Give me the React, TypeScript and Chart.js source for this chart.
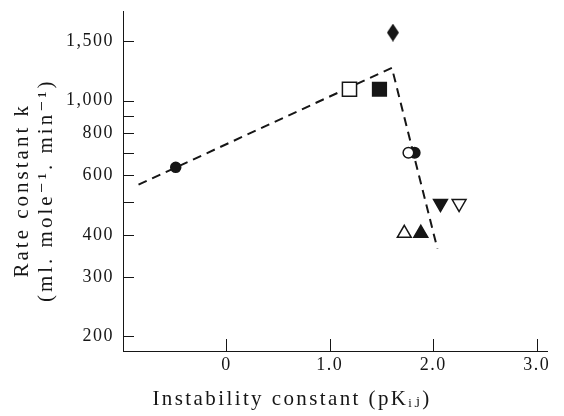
import { useEffect, useRef } from "react";
import { Chart, registerables } from "chart.js";

Chart.register(...registerables);

// ---- data ----
const filledCircleX = [-0.49];
const filledCircleY = [634];
const openSquareX = [1.19];
const openSquareY = [1080];
const filledSquareX = [1.48];
const filledSquareY = [1080];
const filledDiamondX = [1.61];
const filledDiamondY = [1590];
const openCircleX = [1.76];
const openCircleY = [700];
const halfCircleX = [1.82];
const halfCircleY = [700];
const openTriangleX = [1.72];
const openTriangleY = [404];
const filledTriangleX = [1.88];
const filledTriangleY = [404];
const filledInvTriangleX = [2.07];
const filledInvTriangleY = [495];
const openInvTriangleX = [2.25];
const openInvTriangleY = [495];
const trendX = [-0.85, 1.6, 2.04];
const trendY = [563, 1250, 364];

const yTickValues = [200, 300, 400, 500, 600, 700, 800, 900, 1000, 1500];
const yTickLabels = ["200", "300", "400", "", "600", "", "800", "", "1,000", "1,500"];
const xTickValues = [0, 1, 2, 3];
const xTickLabels = ["0", "1.0", "2.0", "3.0"];

const xTitle = "Instability constant (pK\u1d62\u2c7c)";
const yTitle = ["Rate constant k", "(ml. mole\u207b\u00b9. min\u207b\u00b9)"];

function pts(xs: number[], ys: number[]) {
  return xs.map((x, i) => ({ x, y: ys[i] }));
}

export default function App() {
  const ref = useRef<HTMLCanvasElement>(null);

  useEffect(() => {
    const canvas = ref.current;
    if (!canvas) return;
    const ink = "#161616";
    const serif = "'Liberation Serif', 'DejaVu Serif', serif";

    const diamond = document.createElement("canvas");
    diamond.width = 12;
    diamond.height = 18;
    const dc = diamond.getContext("2d")!;
    dc.fillStyle = ink;
    dc.beginPath();
    dc.moveTo(6, 0);
    dc.lineTo(12, 9);
    dc.lineTo(6, 18);
    dc.lineTo(0, 9);
    dc.closePath();
    dc.fill();

    const marker = (
      data: { x: number; y: number }[],
      style: any,
      radius: number,
      filled: boolean,
      rotation = 0
    ) => ({
      data,
      showLine: false,
      pointStyle: style,
      pointRadius: radius,
      pointRotation: rotation,
      pointBackgroundColor: filled ? ink : "#ffffff",
      pointBorderColor: ink,
      pointBorderWidth: 1.5,
      order: 1,
    });

    const plugin = {
      id: "refStyle",
      beforeDraw(chart: any) {
        chart.ctx.letterSpacing = "1.5px";
        const ys = chart.scales.y;
        if (ys && !ys.__patched) {
          const orig = ys.drawTitle;
          ys.drawTitle = function () {
            const c = this.ctx;
            c.save();
            c.letterSpacing = "3px";
            c.translate(0, 9);
            orig.call(this);
            c.restore();
          };
          ys.__patched = true;
        }
        const xs = chart.scales.x;
        if (xs && !xs.__patched) {
          const orig = xs.drawTitle;
          xs.drawTitle = function () {
            const c = this.ctx;
            c.save();
            c.letterSpacing = "2.4px";
            c.translate(-43, 0);
            orig.call(this);
            c.restore();
          };
          xs.__patched = true;
        }
      },
      afterDraw(chart: any) {
        const { ctx, chartArea } = chart;
        const xs = chart.scales.x;
        const ys = chart.scales.y;
        ctx.save();
        ctx.strokeStyle = ink;
        ctx.lineWidth = 1;
        ys.ticks.forEach((t: any) => {
          const py = Math.round(ys.getPixelForValue(t.value)) + 0.5;
          ctx.beginPath();
          ctx.moveTo(chartArea.left, py);
          ctx.lineTo(chartArea.left + 11, py);
          ctx.stroke();
        });
        xs.ticks.forEach((t: any) => {
          const px = Math.round(xs.getPixelForValue(t.value)) + 0.5;
          ctx.beginPath();
          ctx.moveTo(px, chartArea.bottom);
          ctx.lineTo(px, chartArea.bottom - 12);
          ctx.stroke();
        });
        ctx.restore();
      },
    };

    const chart = new Chart(canvas, {
      type: "scatter",
      data: {
        datasets: [
          marker(pts(filledCircleX, filledCircleY), "circle", 5, true),
          marker(pts(openSquareX, openSquareY), "rect", 10, false),
          marker(pts(filledSquareX, filledSquareY), "rect", 9.7, true),
          marker(pts(filledDiamondX, filledDiamondY), diamond, 9, true),
          marker(pts(openCircleX, openCircleY), "circle", 5.3, false),
          marker(pts(halfCircleX, halfCircleY), "circle", 5.3, true),
          marker(pts(openTriangleX, openTriangleY), "triangle", 8, false),
          marker(pts(filledTriangleX, filledTriangleY), "triangle", 8, true),
          marker(pts(filledInvTriangleX, filledInvTriangleY), "triangle", 8, true, 180),
          marker(pts(openInvTriangleX, openInvTriangleY), "triangle", 8, false, 180),
          {
            data: pts(trendX, trendY),
            showLine: true,
            borderColor: ink,
            borderWidth: 2,
            borderDash: [9, 6],
            pointRadius: 0,
            tension: 0,
            order: 10,
          } as any,
        ],
      },
      options: {
        animation: false,
        responsive: true,
        maintainAspectRatio: false,
        events: [],
        layout: { padding: { left: 0, right: 17, top: 8, bottom: 0 } },
        plugins: {
          legend: { display: false },
          tooltip: { enabled: false },
        },
        scales: {
          x: {
            type: "linear",
            min: -1.0,
            max: 3.1,
            grid: { display: false, drawTicks: false },
            border: { display: true, color: ink, width: 1 },
            afterBuildTicks: (s: any) => {
              s.ticks = xTickValues.map((v) => ({ value: v }));
            },
            afterFit: (s: any) => {
              s.height = 65;
              s.paddingLeft = 0;
              s.paddingRight = 0;
            },
            ticks: {
              autoSkip: false,
              maxRotation: 0,
              padding: 3,
              color: ink,
              font: { family: serif, size: 18 },
              callback: (v: any) => {
                const i = xTickValues.indexOf(Number(v));
                return i >= 0 ? xTickLabels[i] : "";
              },
            },
            title: {
              display: true,
              text: xTitle,
              color: ink,
              font: { family: serif, size: 21 },
              padding: { top: 0, bottom: 4 },
            },
          },
          y: {
            type: "logarithmic",
            min: 181,
            max: 1836,
            grid: { display: false, drawTicks: false },
            border: { display: true, color: ink, width: 1 },
            afterBuildTicks: (s: any) => {
              s.ticks = yTickValues.map((v) => ({ value: v }));
            },
            afterFit: (s: any) => {
              s.width = 123;
              s.paddingTop = 0;
              s.paddingBottom = 0;
            },
            ticks: {
              autoSkip: false,
              padding: 9,
              color: ink,
              font: { family: serif, size: 18 },
              callback: (v: any) => {
                const i = yTickValues.indexOf(Number(v));
                return i >= 0 ? yTickLabels[i] : "";
              },
            },
            title: {
              display: true,
              text: yTitle,
              color: ink,
              font: { family: serif, size: 21, lineHeight: 1.15 },
              padding: { top: 10, bottom: 0 },
            },
          },
        },
      },
      plugins: [plugin],
    } as any);

    return () => chart.destroy();
  }, []);

  return (
    <div
      style={{
        position: "fixed",
        left: 0,
        top: 0,
        width: 564,
        height: 416,
        background: "#ffffff",
      }}
    >
      <canvas ref={ref} />
    </div>
  );
}
